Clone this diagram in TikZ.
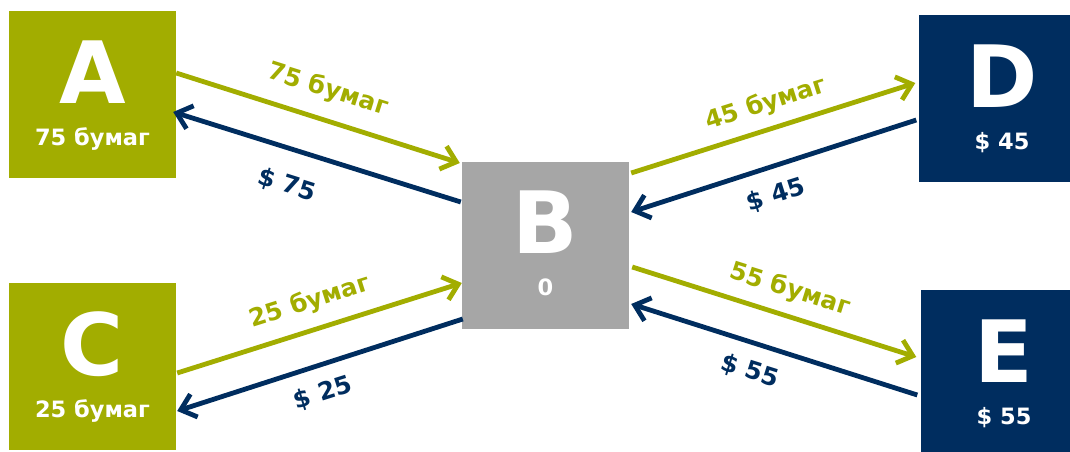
\documentclass[tikz,border=0pt]{standalone}
\usepackage{fontspec}
\setmainfont{DejaVu Sans}
\usetikzlibrary{arrows.meta}
\definecolor{myolive}{HTML}{A2AD00}
\definecolor{mynavy}{HTML}{002D5F}
\definecolor{mygray}{HTML}{A6A6A6}
\begin{document}
\begin{tikzpicture}[x=1pt,y=-1pt,
  box/.style={rectangle, minimum size=167pt, inner sep=0pt, draw=none},
  big/.style={text=white, font=\fontsize{86}{86}\selectfont\bfseries, inner sep=0pt, anchor=base},
  sub/.style={text=white, font=\fontsize{22.5}{22.5}\selectfont\bfseries, inner sep=0pt, anchor=base},
  lab/.style={font=\fontsize{24.5}{25}\selectfont\bfseries, inner sep=0pt},
  flow/.style={line width=4.8pt, -{Straight Barb[length=14pt,width=24pt]}},
  paper/.style={flow, draw=myolive},
  money/.style={flow, draw=mynavy}]
\clip (0,0) rectangle (1070,452);
% boxes
\node[box, fill=myolive] (A) at (92.5,94.5) {};
\node[box, fill=myolive] (C) at (92.5,366.5) {};
\node[box, fill=mygray]  (B) at (545.5,245) {};
\node[box, fill=mynavy]  (D) at (1002,98.5) {};
\node[box, fill=mynavy]  (E) at (1004,373.5) {};
% box texts
\node[big] (At) at ([yshift=-8.5pt]A.center) {A};
\node[sub] (As) at ([yshift=-50.5pt]A.center) {75 бумаг};
\node[big] (Ct) at ([yshift=-8.5pt]C.center) {C};
\node[sub] (Cs) at ([yshift=-50.5pt]C.center) {25 бумаг};
\node[big] (Bt) at ([yshift=-8.5pt]B.center) {B};
\node[sub] (Bs) at ([yshift=-50.5pt]B.center) {0};
\node[big] (Dt) at ([yshift=-8.5pt]D.center) {D};
\node[sub] (Ds) at ([yshift=-51pt]D.center) {\$ 45};
\node[big] (Et) at ([yshift=-8.5pt]E.center) {E};
\node[sub] (Es) at ([yshift=-51pt]E.center) {\$ 55};
% connectors
\draw[paper] ([yshift=21.5pt]A.east) -- ([xshift=-2pt,yshift=82pt]B.west);
\draw[money] ([xshift=-1pt,yshift=43pt]B.west) -- ([xshift=-3pt,yshift=-17.5pt]A.east);
\draw[paper] ([xshift=1pt,yshift=-6.5pt]C.east) -- ([yshift=-38pt]B.west);
\draw[money] ([xshift=1pt,yshift=-74pt]B.west) -- ([xshift=1pt,yshift=-44.5pt]C.east);
\draw[paper] ([xshift=2pt,yshift=72pt]B.east) -- ([xshift=-3pt,yshift=15.5pt]D.west);
\draw[money] ([xshift=-2pt,yshift=-21.5pt]D.west) -- ([xshift=2pt,yshift=33pt]B.east);
\draw[paper] ([xshift=3pt,yshift=-22pt]B.east) -- ([xshift=-4pt,yshift=16.5pt]E.west);
\draw[money] ([xshift=-3pt,yshift=-21.5pt]E.west) -- ([xshift=2pt,yshift=-59pt]B.east);
% labels
\node[lab, text=myolive, rotate=-17.5] (l1) at (328,90) {75 бумаг};
\node[lab, text=mynavy,  rotate=-17.5] (l2) at (287,185) {\$ 75};
\node[lab, text=myolive, rotate=17.5]  (l3) at (310,302) {25 бумаг};
\node[lab, text=mynavy,  rotate=17.5]  (l4) at (323,393) {\$ 25};
\node[lab, text=myolive, rotate=17.5]  (l5) at (766,104) {45 бумаг};
\node[lab, text=mynavy,  rotate=17.5]  (l6) at (776,195) {\$ 45};
\node[lab, text=myolive, rotate=-17.5] (l7) at (790,290) {55 бумаг};
\node[lab, text=mynavy,  rotate=-17.5] (l8) at (750,371) {\$ 55};
\end{tikzpicture}
\end{document}
